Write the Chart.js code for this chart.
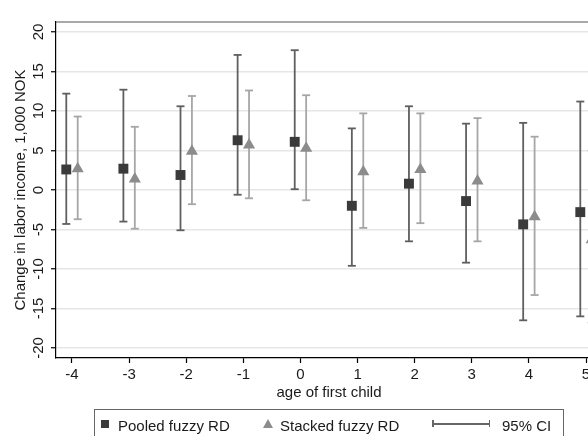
<!DOCTYPE html>
<html>
<head>
<meta charset="utf-8">
<script src="https://cdn.jsdelivr.net/npm/chart.js@4.4.0/dist/chart.umd.min.js"></script>
<style>
html, body { margin: 0; padding: 0; background: #fff; overflow: hidden; }
#wrap { position: relative; width: 588px; height: 436px; overflow: hidden;
        font-family: "Liberation Sans", Arial, sans-serif; color: #1a1a1a; }
#chart { position: absolute; left: 0; top: 0; }
.leg { position: absolute; font-size: 15px; line-height: 15px; white-space: nowrap; }
#legbox { position: absolute; left: 94px; top: 409px; width: 468px; height: 40px; border: 1px solid #666; }
#sq { position: absolute; left: 101px; top: 420px; width: 8px; height: 8px; background: #3a3a3a; }
#tri { position: absolute; left: 263px; top: 419px; width: 0; height: 0;
       border-left: 5px solid transparent; border-right: 5px solid transparent; border-bottom: 9px solid #8c8c8c; }
.ci { position: absolute; background: #666; }
</style>
</head>
<body>
<div id="wrap">
  <canvas id="chart" width="610" height="436"></canvas>
  <div id="legbox"></div>
  <div id="sq"></div>
  <span class="leg" style="left:118px; top:418px;">Pooled fuzzy RD</span>
  <div id="tri"></div>
  <span class="leg" style="left:280px; top:418px;">Stacked fuzzy RD</span>
  <div class="ci" style="left:432px; top:423px; width:58px; height:1.5px;"></div>
  <div class="ci" style="left:432px; top:420px; width:1.5px; height:7px;"></div>
  <div class="ci" style="left:488.5px; top:420px; width:1.5px; height:7px;"></div>
  <span class="leg" style="left:502px; top:418px;">95% CI</span>
</div>
<script>
// données
const ages = [-4, -3, -2, -1, 0, 1, 2, 3, 4, 5];
const yTicks = [-20, -15, -10, -5, 0, 5, 10, 15, 20];

const pooledEst = [2.6, 2.7, 1.9, 6.3, 6.1, -2.0, 0.8, -1.4, -4.35, -2.8];
const pooledLo  = [-4.3, -4.0, -5.1, -0.6, 0.1, -9.6, -6.5, -9.2, -16.5, -16.0];
const pooledHi  = [12.2, 12.7, 10.6, 17.1, 17.7, 7.8, 10.6, 8.4, 8.5, 11.2];

const stackedEst = [2.7, 1.4, 4.9, 5.7, 5.3, 2.3, 2.6, 1.15, -3.4, -6.3];
const stackedLo  = [-3.7, -4.9, -1.8, -1.05, -1.3, -4.8, -4.2, -6.5, -13.3, -16.8];
const stackedHi  = [9.3, 8.0, 11.9, 12.6, 12.0, 9.7, 9.7, 9.1, 6.75, 5.0];

const shift = 0.1;
const font = { family: '"Liberation Sans", Arial, sans-serif', size: 15 };

Chart.defaults.font.family = font.family;
Chart.defaults.font.size = 15;
Chart.defaults.color = '#1a1a1a';

// un jeu "ligne" par intervalle, les caps avec pointStyle 'line'
function ciSets(lo, hi, dx, color) {
    return ages.map((a, i) => ({
        data: [{ x: a + dx, y: lo[i] }, { x: a + dx, y: hi[i] }],
        showLine: true,
        borderColor: color,
        borderWidth: 1.8,
        pointStyle: 'line',
        pointRadius: 4,
        pointBorderWidth: 1.8,
        pointBorderColor: color,
        order: 2
    }));
}

// étiquettes de l'axe y tournées comme dans Stata
const yLabels = {
    id: 'yLabels',
    afterDraw(chart) {
        const ctx = chart.ctx, y = chart.scales.y;
        ctx.save();
        ctx.font = '15px ' + font.family;
        ctx.fillStyle = '#1a1a1a';
        ctx.textAlign = 'center';
        ctx.textBaseline = 'middle';
        yTicks.forEach(v => {
            ctx.save();
            ctx.translate(y.right - 17.5, y.getPixelForValue(v));
            ctx.rotate(-Math.PI / 2);
            ctx.fillText(String(v), 0, 0);
            ctx.restore();
        });
        ctx.restore();
    }
};

// bord supérieur du cadre
const topFrame = {
    id: 'topFrame',
    afterDraw(chart) {
        const { ctx, chartArea } = chart;
        ctx.save();
        ctx.strokeStyle = '#555';
        ctx.lineWidth = 1.2;
        ctx.beginPath();
        ctx.moveTo(chartArea.left, chartArea.top);
        ctx.lineTo(chartArea.right, chartArea.top);
        ctx.stroke();
        ctx.restore();
    }
};

new Chart(document.getElementById('chart'), {
    type: 'scatter',
    data: {
        datasets: [
            {
                label: 'Pooled fuzzy RD',
                data: ages.map((a, i) => ({ x: a - shift, y: pooledEst[i] })),
                pointStyle: 'rect',
                pointRadius: 7,
                backgroundColor: '#3a3a3a',
                borderColor: '#3a3a3a',
                borderWidth: 0,
                order: 0
            },
            {
                label: 'Stacked fuzzy RD',
                data: ages.map((a, i) => ({ x: a + shift, y: stackedEst[i] })),
                pointStyle: 'triangle',
                pointRadius: 7,
                backgroundColor: '#8c8c8c',
                borderColor: '#8c8c8c',
                borderWidth: 0,
                order: 1
            },
            ...ciSets(pooledLo, pooledHi, -shift, '#5f5f5f'),
            ...ciSets(stackedLo, stackedHi, shift, '#a6a6a6')
        ]
    },
    options: {
        responsive: false,
        devicePixelRatio: 1,
        animation: false,
        layout: { padding: { top: 22, right: 8, bottom: 32, left: 0 } },
        plugins: {
            legend: { display: false },
            tooltip: { enabled: false }
        },
        scales: {
            x: {
                type: 'linear',
                min: -4.28,
                max: 5.28,
                afterBuildTicks: s => { s.ticks = ages.map(v => ({ value: v })); },
                afterFit: s => { s.height = 46; },
                ticks: { font, color: '#1a1a1a', padding: 3, autoSkip: false, maxRotation: 0 },
                grid: { drawOnChartArea: false, drawTicks: true, tickLength: 5, tickColor: '#000', tickWidth: 1.2 },
                border: { color: '#000', width: 1.2 },
                title: { display: true, text: 'age of first child', font, color: '#1a1a1a', padding: { top: 0, bottom: 2 } }
            },
            y: {
                min: -21.27,
                max: 21.27,
                afterBuildTicks: s => { s.ticks = yTicks.map(v => ({ value: v })); },
                afterFit: s => { s.width = 56; },
                ticks: { display: false },
                grid: { color: '#e6e6e6', lineWidth: 1.5, drawTicks: true, tickLength: 5, tickColor: '#000', tickWidth: 1.2 },
                border: { color: '#000', width: 1.2 },
                title: { display: true, text: 'Change in labor income, 1,000 NOK', font, color: '#1a1a1a', padding: { top: 12, bottom: 0 } }
            }
        }
    },
    plugins: [yLabels, topFrame]
});
</script>
</body>
</html>
